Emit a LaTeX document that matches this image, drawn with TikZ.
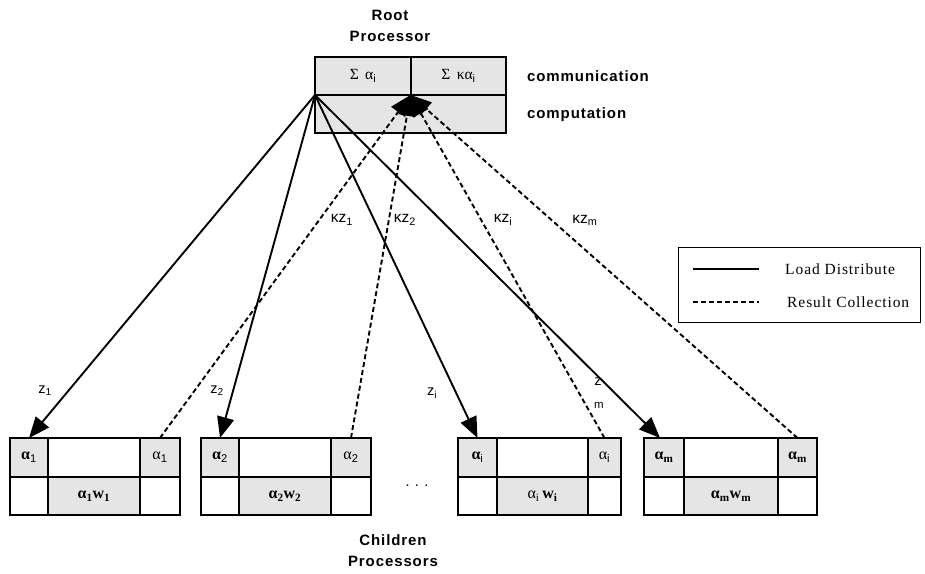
\documentclass[tikz,border=0pt]{standalone}
\usepackage{fontspec}
\setmainfont{Liberation Serif}
\newfontfamily\sansf{Liberation Sans}
\newfontfamily\sansb[LetterSpace=6]{Liberation Sans Bold}
\newfontfamily\serifsp[LetterSpace=6]{Liberation Serif}
\usetikzlibrary{arrows.meta}

% one cell of a processor table
\newcommand\tcell[7]{%
  \node[cell,#6,minimum width={#4},minimum height={#5}] (#1) at (#2,#3) {#7};}

% a child processor: name, x0, x1, x2, x3, left label, right label, middle label
\newcommand\childbox[8]{%
  \tcell{#1L}{#2}{438}{#3-#2}{39}{shade}{#6}
  \tcell{#1M}{#3}{438}{#4-#3}{39}{}{}
  \tcell{#1R}{#4}{438}{#5-#4}{39}{shade}{#7}
  \tcell{#1BL}{#2}{477}{#3-#2}{38}{}{}
  \tcell{#1BM}{#3}{477}{#4-#3}{38}{shade}{#8}
  \tcell{#1BR}{#4}{477}{#5-#4}{38}{}{}}

\newcommand\ssub[1]{\textsubscript{\sansf #1}}

\begin{document}
\begin{tikzpicture}[x=1pt,y=-1pt,
  cell/.style={draw=black,line width=1.1pt,inner sep=0pt,outer sep=0pt,
    anchor=north west,font=\fontsize{16}{18}\selectfont},
  shade/.style={fill=black!10},
  load/.style={line width=1.9pt,-{Triangle[length=21pt,width=17pt]}},
  result/.style={line width=1.9pt,dash pattern=on 5pt off 3pt,
    -{Triangle[length=21pt,width=17pt]}},
  head/.style={font=\sansb\fontsize{15}{21}\selectfont,align=center,inner sep=0pt},
  lab/.style={font=\sansf\fontsize{14.5}{17}\selectfont,inner sep=0pt},
  klab/.style={font=\sansf\fontsize{15.5}{17}\selectfont,inner sep=0pt},
  legtext/.style={font=\serifsp\fontsize{15.5}{17}\selectfont,inner sep=0pt,anchor=west}]

\useasboundingbox (0,0) rectangle (925,573);

% root processor
\node[head] (roottitle) at (390,26) {Root\\Processor};
\tcell{rootA}{315}{57}{96}{38}{shade}{{\fontsize{15.5}{17}\selectfont Σ\ \,α\ssub{i}}}
\tcell{rootB}{411}{57}{95}{38}{shade}{{\fontsize{15.5}{17}\selectfont Σ\ \,κα\ssub{i}}}
\tcell{rootC}{315}{95}{191}{38}{shade}{}
\node[head,anchor=west] (comm) at (527,76) {communication};
\node[head,anchor=west] (comp) at (527,115) {computation};
\coordinate (src) at (rootC.north west);
\coordinate (sink) at (rootC.north);

% children processors
\childbox{ca}{10}{48}{140}{180}{\textbf{α}\ssub{1}}{α\ssub{1}}{\textbf{α\textsubscript{1}w\textsubscript{1}}}
\childbox{cb}{201}{239}{331}{371}{\textbf{α}\ssub{2}}{α\ssub{2}}{\textbf{α\textsubscript{2}w\textsubscript{2}}}
\childbox{ci}{458}{497}{588}{621}{\textbf{α}\ssub{i}}{α\ssub{i}}{α\textsubscript{i}\,\textbf{w\textsubscript{i}}}
\childbox{cm}{644}{684}{778}{817}{\textbf{α\textsubscript{m}}}{\textbf{α\textsubscript{m}}}{\textbf{α\textsubscript{m}w\textsubscript{m}}}
\node[lab] (dots) at (417,486) {. . .};
\node[head] (childtitle) at (393,551) {Children\\Processors};

% load distribution
\draw[load] (src) -- (caL.north);
\draw[load] (src) -- (cbL.north);
\draw[load] (src) -- (ciL.north);
\draw[load] (src) -- ([xshift=-4pt]cmL.north);

% result collection
\draw[result] (caR.north) -- (sink);
\draw[result] (cbR.north) -- (sink);
\draw[result] (ciR.north) -- (sink);
\draw[result] (cmR.north) -- (sink);

% link labels
\node[lab] (z1) at (45,391) {z\textsubscript{1}};
\node[lab] (z2) at (217,391) {z\textsubscript{2}};
\node[lab] (zi) at (432,393) {z\textsubscript{i}};
\node[lab] (zm) at (598,382) {z};
\node[lab,font=\sansf\fontsize{11.5}{13}\selectfont] (zmsub) at (599,405) {m};
\node[klab] (kz1) at (342,220) {κz\textsubscript{1}};
\node[klab] (kz2) at (405,220) {κz\textsubscript{2}};
\node[klab] (kzi) at (503,220) {κz\textsubscript{i}};
\node[klab] (kzm) at (585,220) {κz\textsubscript{m}};

% legend
\node[draw=black,line width=1pt,minimum width=242pt,minimum height=75pt,
  inner sep=0pt,anchor=north west] (legend) at (678,247) {};
\coordinate (la) at (693,269);
\coordinate (lb) at (759,269);
\coordinate (lc) at (693,302);
\coordinate (ld) at (759,302);
\draw[line width=1.9pt] (la) -- (lb);
\draw[line width=1.9pt,dash pattern=on 5pt off 3pt] (lc) -- (ld);
\node[legtext] (lload) at (785,269) {Load Distribute};
\node[legtext] (lres) at (787,302) {Result Collection};
\end{tikzpicture}
\end{document}
